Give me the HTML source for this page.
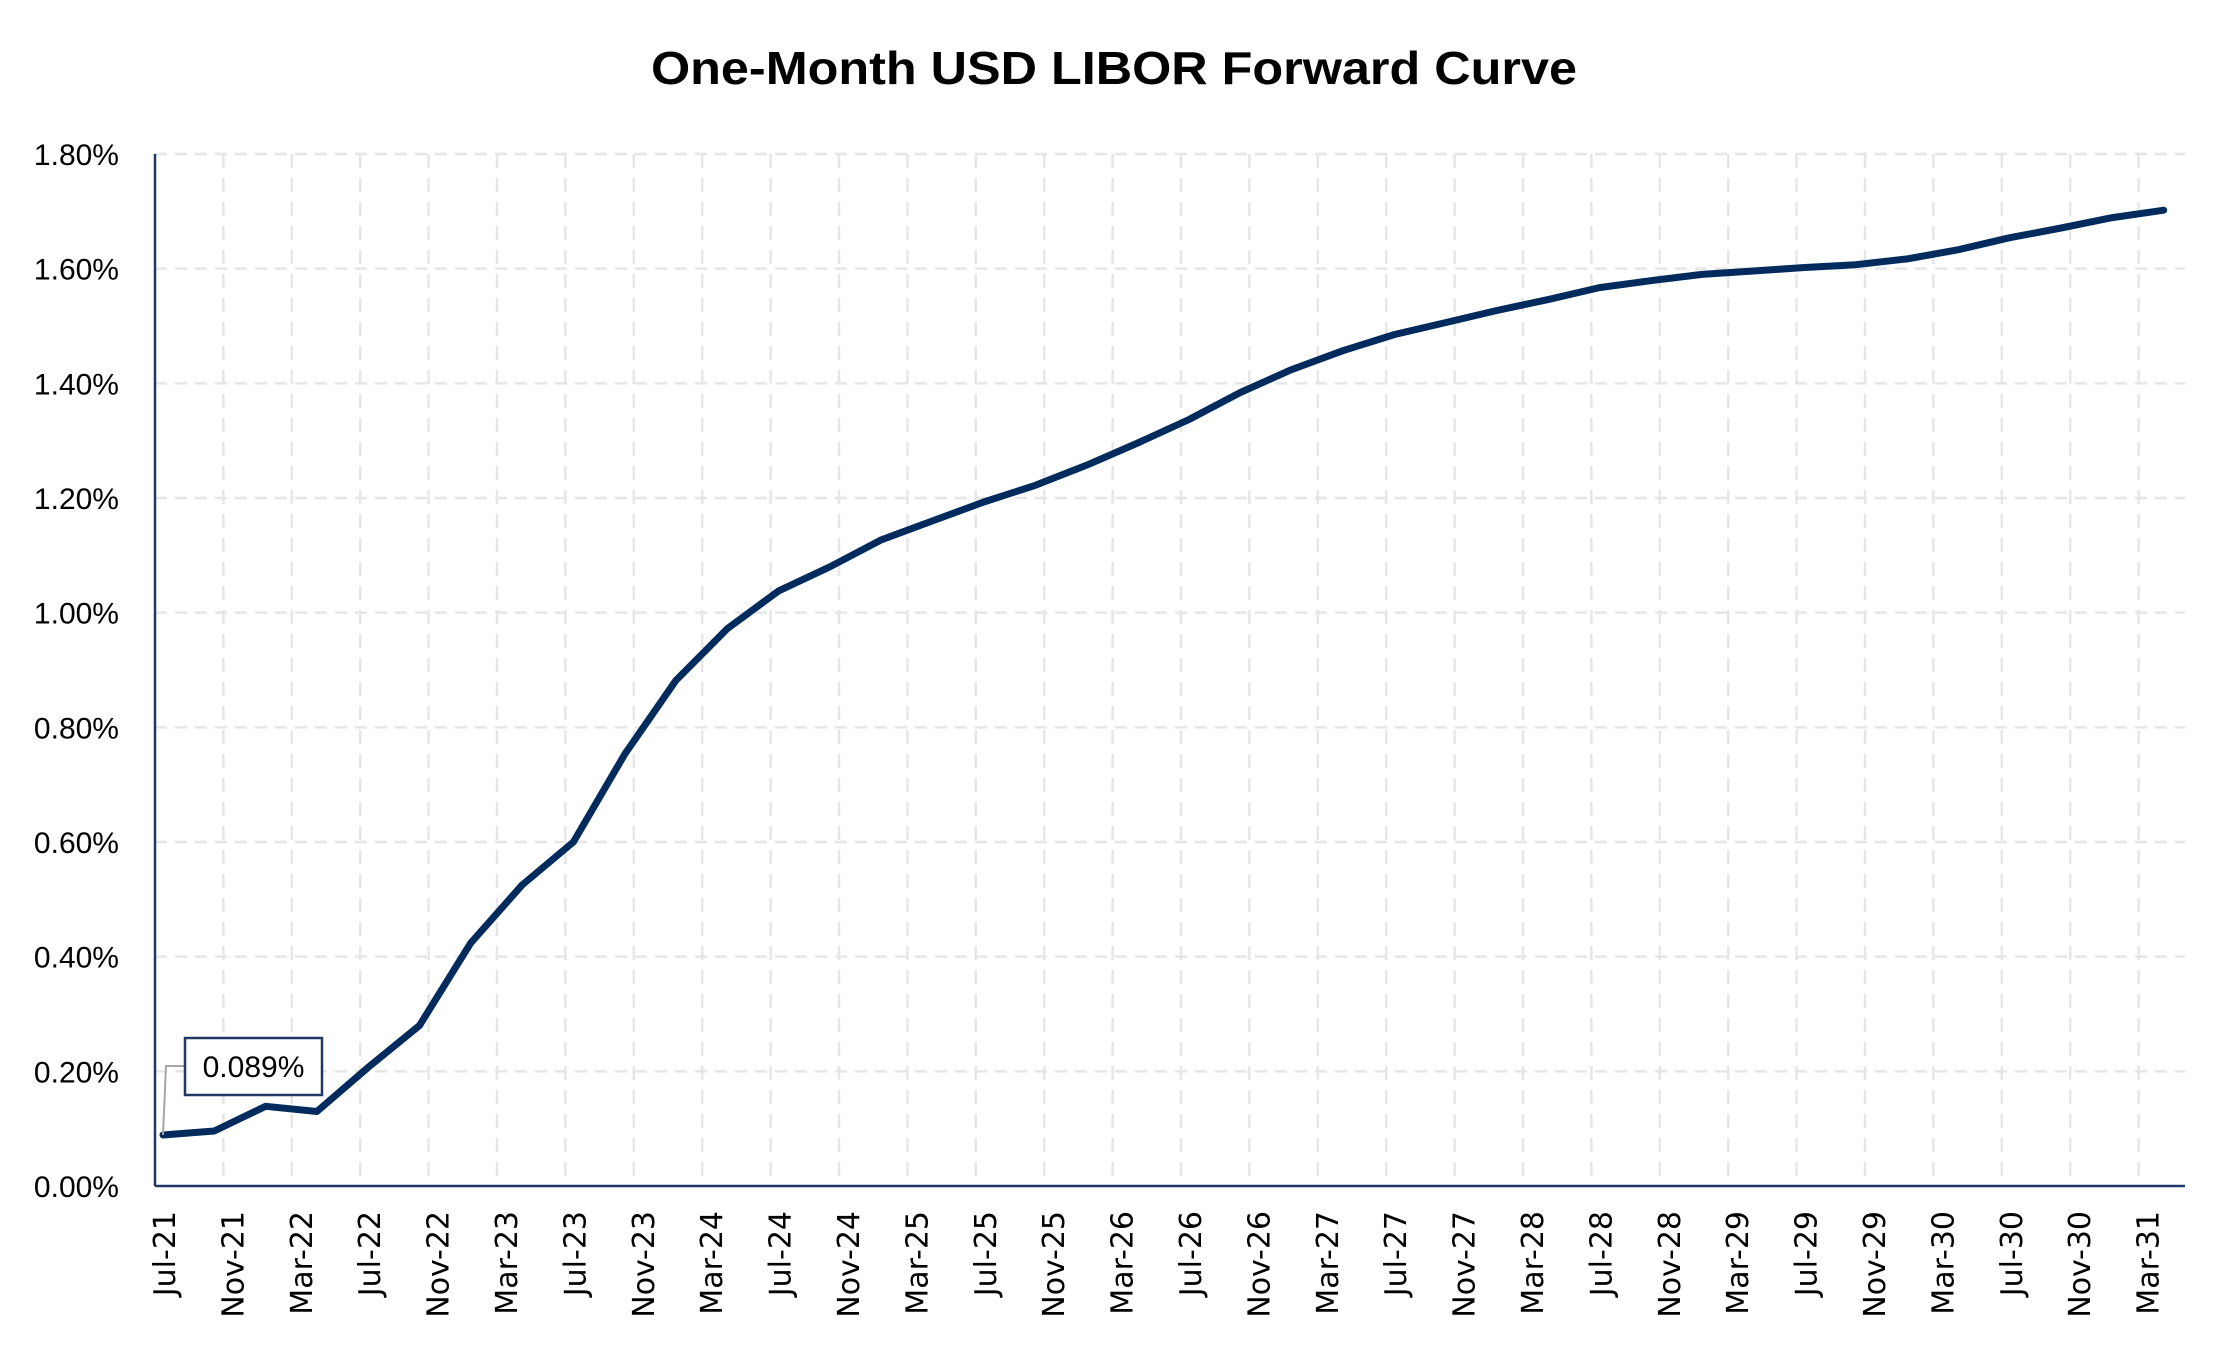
<!DOCTYPE html>
<html><head><meta charset="utf-8"><style>
html,body{margin:0;padding:0;background:#fff;}
svg{display:block;font-family:"Liberation Sans",sans-serif;}
</style></head><body>
<svg id="chart" width="2220" height="1350" viewBox="0 0 2220 1350" xmlns="http://www.w3.org/2000/svg">
<rect width="2220" height="1350" fill="#fff"/>
<text x="1114" y="84" text-anchor="middle" font-size="46" font-weight="bold" textLength="926" lengthAdjust="spacingAndGlyphs" fill="#000">One-Month USD LIBOR Forward Curve</text>
<g id="grid"></g>
<g id="yticks"></g>
<g id="xticks"></g>
<line x1="155" y1="154" x2="155" y2="1186" stroke="#1f3864" stroke-width="2.5"/>
<line x1="155" y1="1186" x2="2185" y2="1186" stroke="#1f3864" stroke-width="2.5"/>
<g id="series"></g>
<g id="annot"></g>
</svg>
<script>
const xLabels = ["Jul-21","Nov-21","Mar-22","Jul-22","Nov-22","Mar-23","Jul-23","Nov-23","Mar-24","Jul-24","Nov-24","Mar-25","Jul-25","Nov-25","Mar-26","Jul-26","Nov-26","Mar-27","Jul-27","Nov-27","Mar-28","Jul-28","Nov-28","Mar-29","Jul-29","Nov-29","Mar-30","Jul-30","Nov-30","Mar-31"];
const yTicks = [0,0.2,0.4,0.6,0.8,1.0,1.2,1.4,1.6,1.8];
const yTickLabels = ["0.00%","0.20%","0.40%","0.60%","0.80%","1.00%","1.20%","1.40%","1.60%","1.80%"];
const monthOffsets = [0,3,6,9,12,15,18,21,24,27,30,33,36,39,42,45,48,51,54,57,60,63,66,69,72,75,78,81,84,87,90,93,96,99,102,105,108,111,114,117];
const rates = [0.089,0.096,0.139,0.130,0.207,0.280,0.424,0.525,0.600,0.753,0.882,0.972,1.038,1.080,1.127,1.160,1.193,1.222,1.257,1.296,1.337,1.384,1.424,1.457,1.485,1.506,1.527,1.546,1.567,1.579,1.590,1.596,1.602,1.607,1.617,1.633,1.654,1.671,1.689,1.702];
const annotationText = "0.089%";

const NS="http://www.w3.org/2000/svg";
const X0=155, X1=2185, Y0=1186, Y1=154, YMAX=1.8;
const monthPx=17.1;
function xScale(m){return 163+m*monthPx;}
function yScale(v){return Y0-(v/YMAX)*(Y0-Y1);}
function labelX(i){return 164+i*4*monthPx;}
function mk(tag,attrs,parent){const e=document.createElementNS(NS,tag);for(const k in attrs)e.setAttribute(k,attrs[k]);parent.appendChild(e);return e;}

const grid=document.getElementById('grid');
yTicks.forEach((t,i)=>{
  if(t===0)return;
  const l=mk('line',{x1:X0,x2:X1,y1:yScale(t),y2:yScale(t),stroke:'#e6e6e6','stroke-width':2.5,'stroke-dasharray':'12 8'},grid);
  
  
});
xLabels.forEach((lab,i)=>{
  if(i===0)return;
  const gx=X0+i*4*monthPx;
  if(gx>X1)return;
  const l=mk('line',{x1:gx,x2:gx,y1:Y1,y2:Y0,stroke:'#e6e6e6','stroke-width':2.5,'stroke-dasharray':'14 10'},grid);
  
  
});

const yt=document.getElementById('yticks');
yTicks.forEach((t,i)=>{
  const e=mk('text',{x:119,y:yScale(t)+11,'text-anchor':'end','font-size':30,fill:'#000'},yt);
  e.textContent=yTickLabels[i];
  
  
});

const xt=document.getElementById('xticks');
xLabels.forEach((lab,i)=>{
  const x=labelX(i);
  const e=mk('text',{x:0,y:0,'text-anchor':'end','font-size':30,fill:'#000','font-family':'"DejaVu Sans",sans-serif',transform:`translate(${x+11},1211) rotate(-90)`},xt);
  e.textContent=lab;
  
  
});

const ser=document.getElementById('series');
const pts=rates.map((v,i)=>xScale(monthOffsets[i]).toFixed(1)+','+yScale(v).toFixed(1)).join(' ');
const pl=mk('polyline',{points:pts,fill:'none',stroke:'#002b5c','stroke-width':7,'stroke-linejoin':'round','stroke-linecap':'round'},ser);



const an=document.getElementById('annot');
const px=xScale(monthOffsets[0]), py=yScale(rates[0]);
const ld=mk('polyline',{points:`${px},${py} ${px+3},1066 185,1066`,fill:'none',stroke:'#a6a6a6','stroke-width':2},an);


const bx=mk('rect',{x:185,y:1038,width:137,height:57,fill:'#fff',stroke:'#1f3864','stroke-width':2.5},an);


const at=mk('text',{x:253.5,y:1077,'text-anchor':'middle','font-size':30,fill:'#000'},an);
at.textContent=annotationText;


</script>
</body></html>
